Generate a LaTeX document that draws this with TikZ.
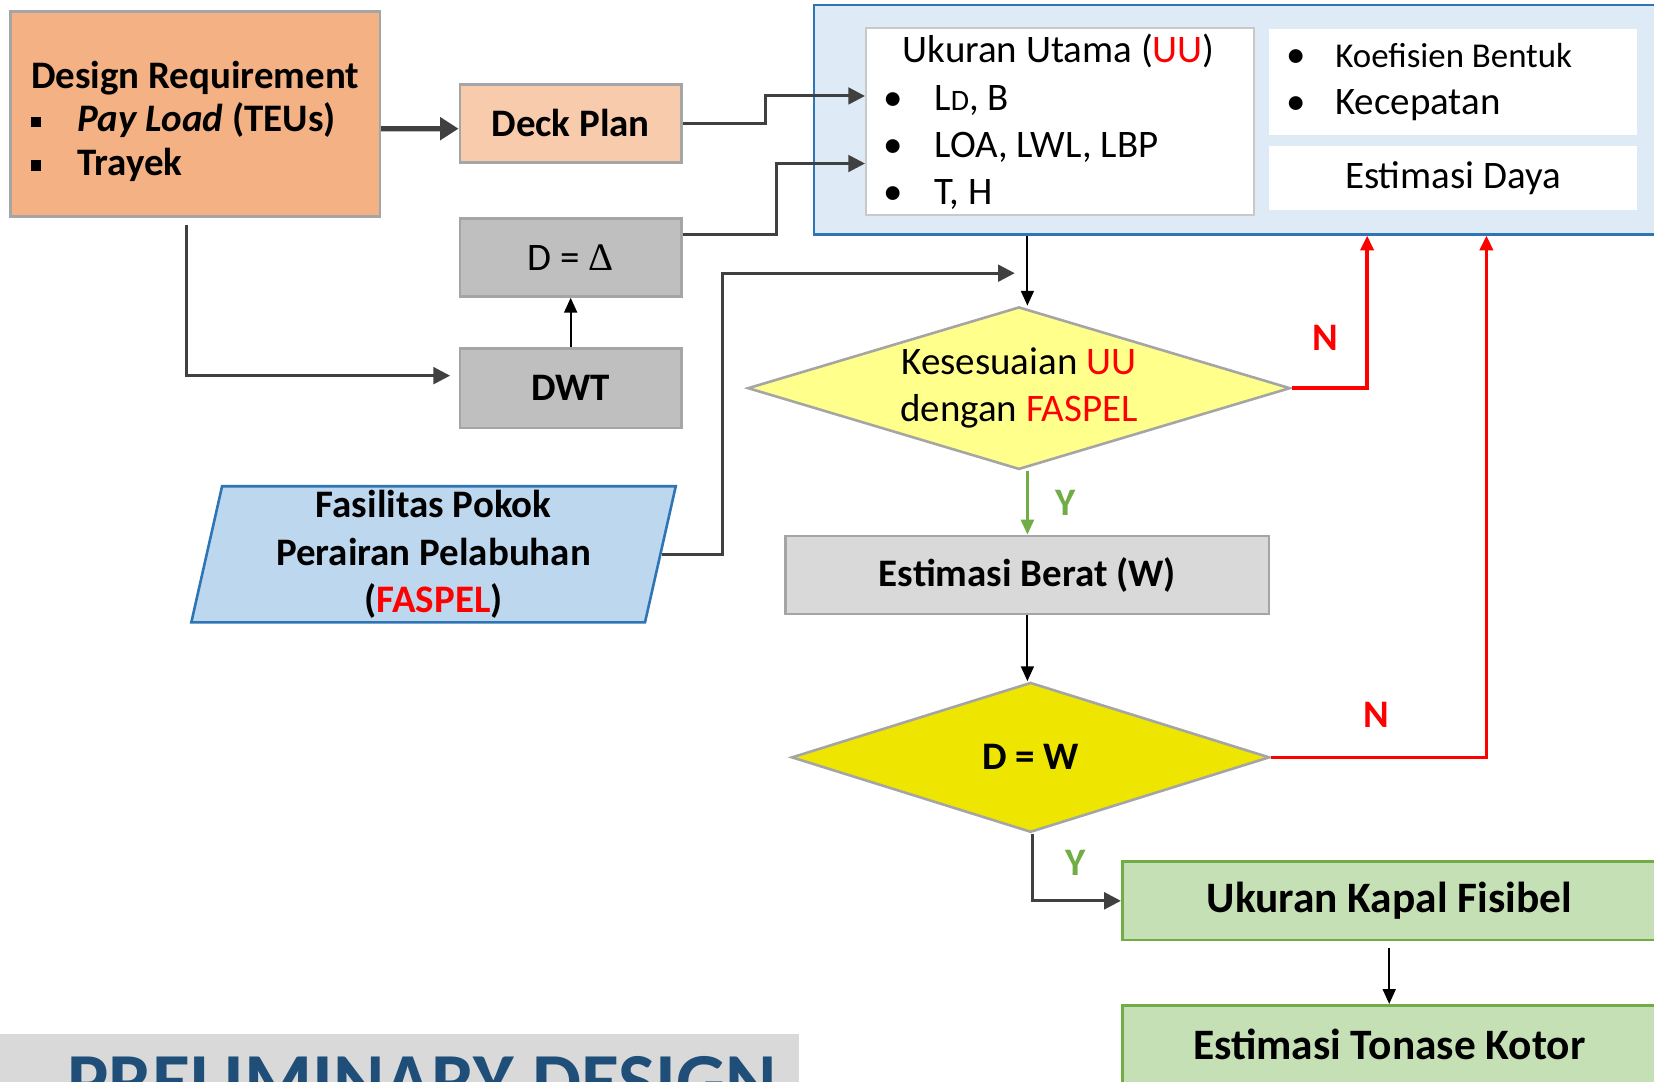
\documentclass[tikz,border=0pt]{standalone}
\usepackage{fontspec}
\setmainfont{Carlito}
\newfontfamily\grfont{Liberation Serif}
\usetikzlibrary{positioning,shapes.geometric,arrows.meta}

\definecolor{drorange}{HTML}{F4B183}
\definecolor{deckorange}{HTML}{F8CBAD}
\definecolor{boxgray}{HTML}{BFBFBF}
\definecolor{lightgray}{HTML}{D9D9D9}
\definecolor{edgegray}{HTML}{A5A5A5}
\definecolor{faspelblue}{HTML}{BDD7EE}
\definecolor{edgeblue}{HTML}{2E75B6}
\definecolor{uublue}{HTML}{DEEBF7}
\definecolor{paleyellow}{HTML}{FFFF8B}
\definecolor{dwyellow}{HTML}{EEE600}
\definecolor{fisgreen}{HTML}{C5E0B4}
\definecolor{edgegreen}{HTML}{70AD47}
\definecolor{linegray}{HTML}{404040}
\definecolor{titleblue}{HTML}{1F4E79}

\newcommand{\merah}[1]{\textcolor{red}{#1}}
\newcommand{\kotak}{\makebox[0.44cm][l]{\rule[0.25ex]{2.6pt}{2.8pt}}}
\newcommand{\titik}[1]{\makebox[#1][l]{•}}

\begin{document}
\begin{tikzpicture}[x=0.01cm,y=-0.01cm,node distance=1cm,on grid,
    >={Triangle[length=4pt,width=3.5pt]}]
    \tikzset{procbox/.style={draw=edgegray,line width=0.7pt,rectangle,inner sep=0pt,
        font=\fontsize{10.5}{12.7}\selectfont},
      boldbox/.style={procbox,font=\fontsize{10.5}{12.7}\selectfont\bfseries},
      bigbox/.style={procbox,draw=edgegreen,fill=fisgreen,minimum width=5.06cm,
        minimum height=0.74cm,font=\fontsize{11.7}{14}\selectfont\bfseries},
      whitebox/.style={procbox,fill=white,draw=none},
      decision/.style={diamond,draw=edgegray,line width=0.7pt,inner sep=0pt,align=center},
      conn/.style={->,draw=linegray,line width=0.8pt,>={Triangle[length=4.5pt,width=4.5pt]}},
      blackarrow/.style={->,black,line width=0.5pt},
      redback/.style={->,red,line width=1pt},
      yesline/.style={->,edgegreen,line width=0.7pt},
      lbl/.style={font=\fontsize{10.5}{12}\selectfont\bfseries}}
    \useasboundingbox (0,0) rectangle (1568,1025);
    % left column
    \node[boldbox,fill=drorange,minimum width=3.5cm,minimum height=1.94cm,align=left,
      font=\fontsize{10.5}{11.7}\selectfont\bfseries]
      (dr) at (185,108) {\rule{0pt}{0.40cm}Design Requirement\\ \kotak\textit{Pay Load} (TEUs)\\ \kotak Trayek};
    \node[boldbox,fill=deckorange,minimum width=2.1cm,minimum height=0.74cm]
      (deck) at (541,117) {Deck Plan};
    \node[procbox,fill=boxgray,minimum width=2.1cm,minimum height=0.74cm]
      (delta) [below=1.27cm of deck] {D = {\grfont Δ}};
    \node[boldbox,fill=boxgray,minimum width=2.1cm,minimum height=0.75cm]
      (dwt) [below=1.24cm of delta] {DWT};
    \node[trapezium,trapezium left angle=76.5,trapezium right angle=103.5,
      trapezium stretches body,draw=edgeblue,fill=faspelblue,line width=0.7pt,
      minimum width=4.59cm,minimum height=1.29cm,inner sep=0pt,align=center,
      font=\fontsize{10.5}{12.8}\selectfont\bfseries]
      (faspel) at (411,525.5) {Fasilitas Pokok\\Perairan Pelabuhan\\(\merah{FASPEL})};
    % main dimensions
    \node[procbox,draw=edgeblue,fill=uublue,minimum width=8.28cm,minimum height=2.17cm]
      (cont) at (1186,113.5) {};
    \node[procbox,fill=white,draw=edgegray!60,line width=0.5pt,minimum width=3.68cm,
      minimum height=1.77cm,text width=3.34cm,align=flush left]
      (uubox) at (1005,115.5) {\hspace*{0.18cm}Ukuran Utama (\merah{UU})\\
        \titik{0.48cm}L{\fontsize{8}{8}\selectfont D}, B\\
        \titik{0.48cm}LOA, LWL, LBP\\
        \titik{0.48cm}T, H};
    \node[whitebox,minimum width=3.49cm,minimum height=1cm,text width=3.15cm,align=flush left]
      (kbox) at (1377.5,78) {\titik{0.46cm}{\fontsize{9.4}{12.4}\selectfont Koefisien Bentuk}\\
        \titik{0.46cm}Kecepatan};
    \node[whitebox,minimum width=3.49cm,minimum height=0.61cm]
      (daya) [below=0.905cm of kbox] {Estimasi Daya};
    % decisions
    \node[decision,fill=paleyellow,shape aspect=3.34,minimum width=5.14cm,minimum height=1.54cm,
      font=\fontsize{10.5}{12.8}\selectfont]
      (d1) at (966,368) {Kesesuaian \merah{UU}\\dengan \merah{FASPEL}};
    \node[boldbox,fill=lightgray,minimum width=4.58cm,minimum height=0.74cm]
      (berat) at (974,545) {Estimasi Berat (W)};
    \node[decision,fill=dwyellow,shape aspect=3.19,minimum width=4.53cm,minimum height=1.42cm,
      font=\fontsize{10.5}{12.8}\selectfont\bfseries]
      (d2) at (977,718) {D = W};
    \node[bigbox] (fisibel) at (1317,854) {Ukuran Kapal Fisibel};
    \node[bigbox] (tonase) at (1317,990) {Estimasi Tonase Kotor};
    % title band
    \fill[lightgray] (0,980) rectangle (757,1030);
    \node[anchor=base,text=titleblue,font=\fontsize{21}{24}\selectfont\bfseries]
      (judul) at (400,1049.5) {PRELIMINARY DESIGN};
    % connectors
    \draw[conn,line width=1.4pt,>={Triangle[length=5pt,width=6pt]}]
      ([yshift=-0.14cm]dr.east) -- ([yshift=-0.05cm]deck.west);
    \draw[conn] (deck.east) -- ++(0.78cm,0) |- ([yshift=0.245cm]uubox.west);
    \draw[conn] ([yshift=0.22cm]delta.east) -- ++(0.89cm,0) |- ([yshift=-0.395cm]uubox.west);
    \draw[conn] ([xshift=-0.08cm,yshift=-0.07cm]dr.south) |- ([xshift=-0.08cm,yshift=0.12cm]dwt.west);
    \draw[blackarrow] (dwt.north) -- (dwt.north |- delta.south);
    \coordinate (fjoin) at (962,259);
    \draw[conn] (faspel.east) -- ++(0.58cm,0) |- (fjoin);
    \draw[blackarrow] (cont.south -| berat.north) -- (berat.north |- d1.north);
    \draw[redback] (d1.east) -| ([xshift=1.1cm]cont.south);
    \draw[yesline] (berat.north |- d1.south) -- (berat.north);
    \draw[blackarrow] (berat.south) -- (berat.south |- d2.north);
    \draw[redback] (d2.east) -| ([xshift=2.23cm]cont.south);
    \draw[conn] ([xshift=0.02cm]d2.south) |- (fisibel.west);
    \draw[blackarrow] ([yshift=-0.06cm]fisibel.south) -- (tonase.north);
    % labels
    \node[lbl,text=red] (n1) at (1256,320) {N};
    \node[lbl,text=red] (n2) at (1305,678) {N};
    \node[lbl,text=edgegreen] (y1) at (1010,477) {Y};
    \node[lbl,text=edgegreen] (y2) at (1020,818) {Y};
\end{tikzpicture}
\end{document}
